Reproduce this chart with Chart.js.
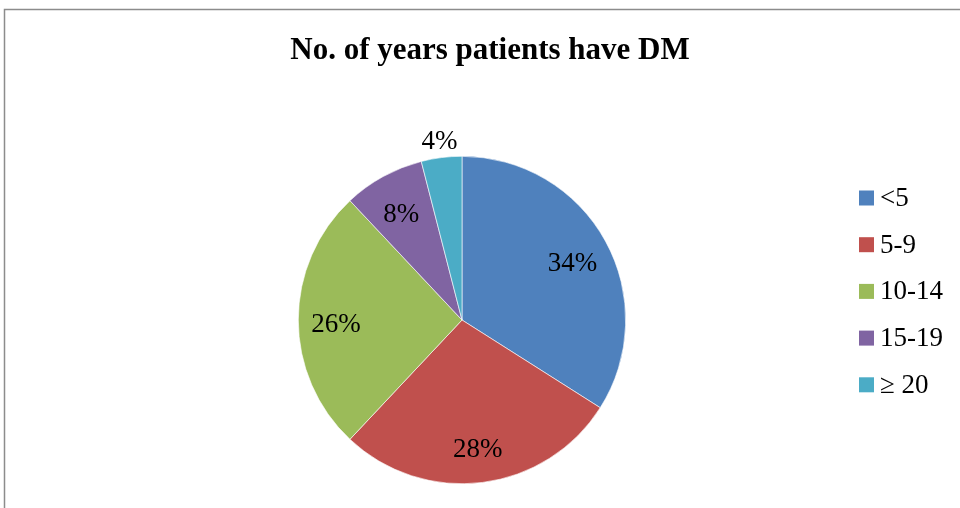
<!DOCTYPE html>
<html>
<head>
<meta charset="utf-8">
<script src="https://cdn.jsdelivr.net/npm/chart.js@4"></script>
<style>
  html, body { margin: 0; padding: 0; background: #fff; }
  #wrap { position: relative; width: 960px; height: 508px; }
</style>
</head>
<body>
<div id="wrap"><canvas id="pieChart" width="960" height="508"></canvas></div>
<script>
const chartTitle = 'No. of years patients have DM';
const categories = ['<5', '5-9', '10-14', '15-19', '\u2265 20'];
const percentValues = [34, 28, 26, 8, 4];
const sliceColors = ['#4F81BD', '#C0504D', '#9BBB59', '#8064A2', '#4BACC6'];

// Frame, title, legend and slice labels drawn on top of the pie
const decorPlugin = {
    id: 'decor',
    beforeDraw(chart) {
        const ctx = chart.ctx;
        ctx.save();
        ctx.strokeStyle = '#8c8c8c';
        ctx.lineWidth = 1.5;
        ctx.strokeRect(4.5, 9.5, 980, 520);
        ctx.restore();
    },
    afterDraw(chart) {
        const ctx = chart.ctx;
        ctx.save();

        // Title
        ctx.fillStyle = '#000';
        ctx.font = 'bold 31px "Liberation Serif", serif';
        ctx.textAlign = 'center';
        ctx.textBaseline = 'middle';
        ctx.fillText(chartTitle, 490, 51);

        // Slice labels
        const meta = chart.getDatasetMeta(0);
        const total = percentValues.reduce((a, b) => a + b, 0);
        ctx.font = '27px "Liberation Serif", serif';
        meta.data.forEach((arc, i) => {
            const p = arc.getProps(['x', 'y', 'startAngle', 'endAngle', 'outerRadius']);
            const mid = (p.startAngle + p.endAngle) / 2;
            const outside = percentValues[i] / total < 0.05;
            const r = outside ? p.outerRadius * 1.1 : p.outerRadius * 0.77;
            const dy = outside ? 1 : 5;
            ctx.fillText(percentValues[i] + '%', p.x + Math.cos(mid) * r, p.y + Math.sin(mid) * r + dy);
        });

        // Legend
        ctx.textAlign = 'left';
        ctx.font = '27px "Liberation Serif", serif';
        categories.forEach((cat, i) => {
            const y = 198 + i * 46.7;
            ctx.fillStyle = sliceColors[i];
            ctx.fillRect(859, y - 7.5, 15, 15);
            ctx.fillStyle = '#000';
            ctx.fillText(cat, 880, y + 1);
        });

        ctx.restore();
    }
};

const ctx = document.getElementById('pieChart').getContext('2d');
new Chart(ctx, {
    type: 'pie',
    data: {
        labels: categories,
        datasets: [{
            data: percentValues,
            backgroundColor: sliceColors,
            borderColor: '#ffffff',
            borderWidth: 0.6
        }]
    },
    options: {
        responsive: false,
        animation: false,
        layout: { padding: { left: 298, right: 334, top: 156, bottom: 24 } },
        plugins: {
            legend: { display: false },
            title: { display: false },
            tooltip: { enabled: false }
        }
    },
    plugins: [decorPlugin]
});
</script>
</body>
</html>
